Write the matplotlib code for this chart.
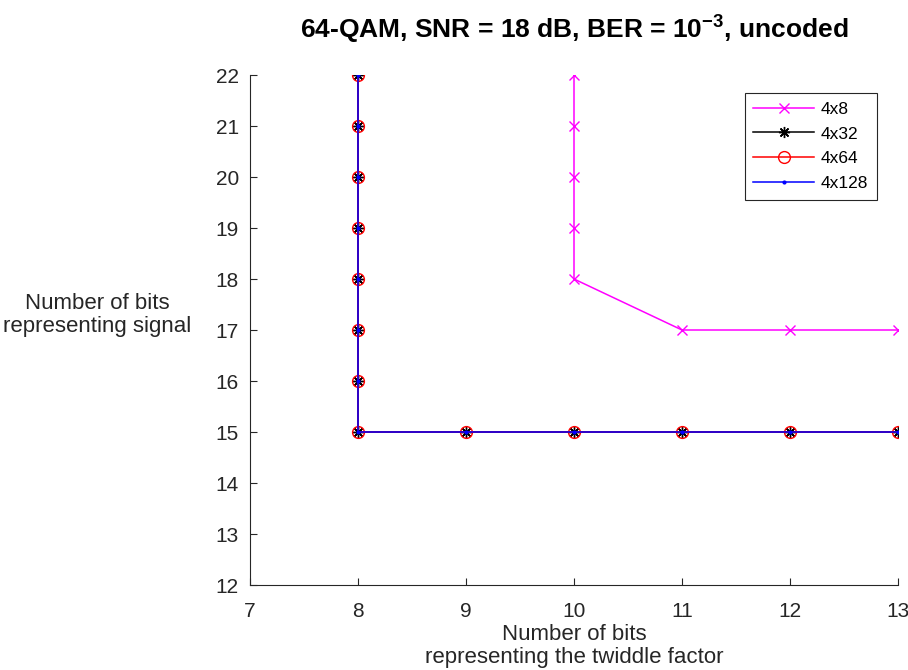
import matplotlib.pyplot as plt

plt.rcParams['font.family'] = ['Liberation Sans', 'DejaVu Sans']
plt.rcParams['mathtext.fontset'] = 'custom'
plt.rcParams['mathtext.rm'] = 'Liberation Sans:bold'
plt.rcParams['mathtext.it'] = 'Liberation Sans:bold'

# 4x8
x8 = [10, 10, 10, 10, 10, 11, 12, 13]
y8 = [22, 21, 20, 19, 18, 17, 17, 17]
# 4x32 / 4x64 / 4x128 share the same curve
xs = [8, 8, 8, 8, 8, 8, 8, 8, 9, 10, 11, 12, 13]
ys = [22, 21, 20, 19, 18, 17, 16, 15, 15, 15, 15, 15, 15]

fig = plt.figure(figsize=(9.08, 6.70), dpi=100)
ax = fig.add_axes([250/908, 1-585/670, 648/908, 510/670])

ax.plot(x8, y8, color='#ff00ff', marker='x', ms=7, lw=1.1, label='4x8')
ax.plot(xs, ys, color='black', marker=(8, 2, 0), ms=8, mew=1, lw=1.1, label='4x32')
ax.plot(xs, ys, color='red', marker='o', ms=8.5, mfc='none', lw=1.1, label='4x64')
ax.plot(xs, ys, color='blue', marker='.', ms=4, lw=1.1, label='4x128')

ax.set_xlim(7, 13)
ax.set_ylim(12, 22)
ax.set_xticks(range(7, 14))
ax.set_yticks(range(12, 23))
for s in ['top', 'right']:
    ax.spines[s].set_visible(False)
for s in ['left', 'bottom']:
    ax.spines[s].set_color('#262626')
    ax.spines[s].set_linewidth(0.8)
ax.tick_params(direction='in', length=5, labelsize=15, colors='#262626', width=0.8, pad=8)
ax.tick_params(axis='x', pad=12)

ax.set_title('64-QAM, SNR = 18 dB, BER = 10$^{-3}$, uncoded',
             fontsize=19, fontweight='bold', pad=26)
fig.text(574/908, 1-646/670, 'Number of bits\nrepresenting the twiddle factor', fontsize=16,
         color='#262626', ha='center', va='center', linespacing=1.1)
fig.text(97/908, 1-315/670, 'Number of bits\nrepresenting signal', fontsize=16,
         color='#262626', ha='center', va='center', linespacing=1.1)

leg = ax.legend(loc='upper right', bbox_to_anchor=(877/908, 1-93/670),
                bbox_transform=fig.transFigure, borderaxespad=0, fancybox=False,
                edgecolor='#262626', fontsize=12.5, handlelength=3.5, framealpha=1,
                labelspacing=0.55, handletextpad=0.4, borderpad=0.5)
leg.get_frame().set_linewidth(0.8)

fig.savefig('out.png', dpi=100)
